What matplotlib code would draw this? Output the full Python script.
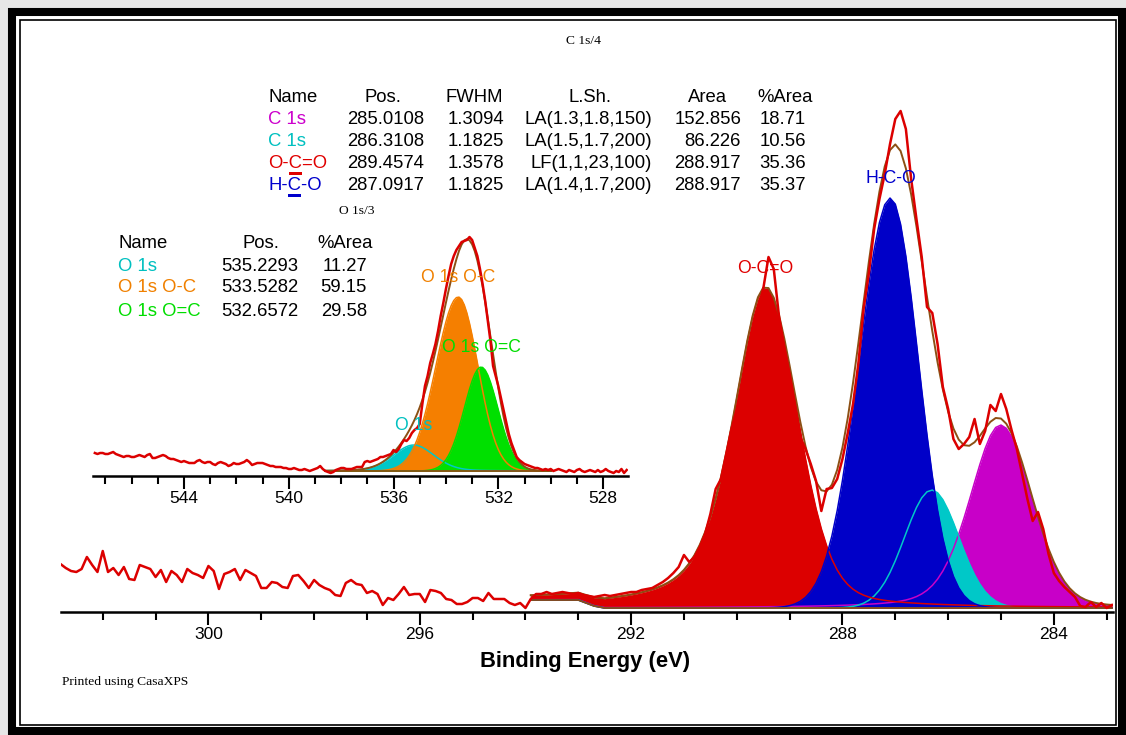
import numpy as np
import matplotlib

matplotlib.use("Agg")
import matplotlib.pyplot as plt
from matplotlib.ticker import MultipleLocator
from matplotlib.patches import Rectangle

plt.rcParams["font.family"] = "Liberation Sans"

W, H = 1126, 735

# C 1s scan, counts above the axis line, 0.1 eV steps from 302.8 eV down
c1s_raw = [
    45, 41, 38, 37, 40, 52, 44, 37, 58, 37,
    41, 34, 42, 30, 29, 44, 42, 40, 32, 39,
    27, 38, 34, 27, 40, 36, 34, 31, 43, 38,
    20, 35, 37, 40, 29, 39, 36, 33, 21, 21,
    27, 26, 22, 21, 33, 34, 28, 21, 29, 24,
    21, 19, 14, 13, 26, 29, 25, 24, 16, 18,
    15, 4, 11, 9, 15, 22, 14, 15, 15, 7,
    19, 18, 16, 10, 9, 5, 5, 7, 11, 11,
    8, 16, 10, 10, 10, 6, 4, 6, 1,
    10, 15, 15, 17, 15, 16, 17, 16, 15, 16,
    14, 13, 12, 13, 14, 13, 14, 15, 16, 17,
    17, 19, 20, 21, 24, 27, 31, 36, 42, 54,
    47, 52, 62, 75, 95, 120, 130, 155, 180, 200,
    225, 250, 276, 300, 320, 352, 340, 292, 262, 235,
    205, 172, 160, 145, 128, 98, 120, 121, 130, 150,
    176, 205, 245, 300, 336, 380, 410, 435, 465, 490,
    498, 480, 430, 390, 352, 302, 296, 265, 222, 200,
    170, 160, 165, 172, 190, 165, 178, 204, 198, 215,
    200, 179, 160, 135, 110, 88, 97, 80, 55, 36,
    28, 22, 17, 12, 3, 2, 7, 2, 6, 1, 4,
]
c1s_start = 302.8
c1s_fit_start = 293.9
c1s_background = [9] * 10 + [7, 5, 3, 2] + [1] * 97

c1s_names = ["C 1s", "C 1s", "O-C=O", "H-C-O"]
c1s_pos = [285.0108, 286.3108, 289.4574, 287.0917]
c1s_fwhm = [1.3094, 1.1825, 1.3578, 1.1825]
c1s_shape = ["LA(1.3,1.8,150)", "LA(1.5,1.7,200)", "LF(1,1,23,100)", "LA(1.4,1.7,200)"]
c1s_area = [152.856, 86.226, 288.917, 288.917]
c1s_pct = [18.71, 10.56, 35.36, 35.37]
c1s_height = [183, 118, 320, 410]
c1s_hwhm = [(0.68, 0.70), (0.60, 0.60), (0.72, 0.72), (0.70, 0.62)]  # (high BE, low BE)
c1s_lor = [(0.30, 0.10), (0.0, 0.0), (0.55, 0.25), (0.0, 0.0)]
c1s_colors = ["#C800C8", "#00C8C8", "#DC0000", "#0000C8"]
c1s_text_colors = ["#CC00CC", "#00C0C0", "#E00000", "#0000CC"]
c1s_tagged = [False, False, True, True]

# O 1s scan, 0.1 eV steps from 547.4 eV down
o1s_raw = [
    23, 22, 23, 23, 22, 22, 23, 24, 22, 21,
    20, 19, 20, 20, 19, 19, 20, 21, 20, 19,
    21, 22, 18, 18, 19, 20, 21, 20, 18, 17,
    17, 16, 15, 14, 15, 14, 13, 13, 13, 15,
    16, 14, 13, 14, 14, 12, 11, 13, 14, 13,
    12, 10, 11, 13, 12, 12, 13, 14, 16, 14,
    11, 12, 13, 13, 13, 12, 11, 10, 10, 9,
    9, 9, 8, 8, 7, 7, 8, 7, 6, 6,
    7, 6, 5, 6, 7, 8, 10, 7, 5, 4,
    3, 4, 6, 7, 8, 8, 7, 7, 7, 8,
    9, 9, 9, 14, 15, 14, 15, 16, 17, 19,
    19, 20, 21, 22, 26, 24, 27, 32, 36, 35,
    38, 43, 46, 48, 52, 72, 90, 100, 113, 122,
    132, 145, 160, 173, 187, 200, 212, 220, 226, 230,
    234, 235, 236, 239, 236, 228, 220, 207, 192, 175,
    155, 135, 110, 100, 90, 78, 66, 54, 42, 33,
    26, 19, 16, 14, 12, 11, 10, 9, 8, 8,
    7, 6,
    7, 6, 7, 5, 6, 7, 6, 5, 4, 6, 5, 4, 6, 7, 5, 4,
    5, 6, 5, 4, 6, 4, 5, 7, 5, 4, 3, 5, 4, 7, 3, 6,
]
o1s_start = 547.4
o1s_fit_start = 538.6
o1s_background = [5] * 87

o1s_names = ["O 1s", "O 1s O-C", "O 1s O=C"]
o1s_pos = [535.2293, 533.5282, 532.6572]
o1s_pct = [11.27, 59.15, 29.58]
o1s_height = [26, 174, 104]
o1s_hwhm = [(0.92, 0.92), (1.00, 0.88), (0.75, 0.75)]
o1s_lor = [(0.2, 0.2), (0.0, 0.0), (0.0, 0.0)]
o1s_colors = ["#00C8C8", "#F57F00", "#00E000"]
o1s_text_colors = ["#00C0C0", "#F08000", "#00DD00"]

RAW = "#DC0000"
ENV = "#8C5014"


def energy(start, n):
    return np.round(start - 0.1 * np.arange(n), 1)


def peak(x, pos, height, hwhm, lor):
    d = x - pos
    w = np.where(d > 0, hwhm[0], hwhm[1])
    eta = np.where(d > 0, lor[0], lor[1])
    u = (d / w) ** 2
    return height * ((1 - eta) * np.exp(-np.log(2) * u) + eta / (1 + u))


def draw_fit(ax, start, raw, fit_start, background, pos, height, hwhm, lor, colors):
    be = energy(start, len(raw))
    be_fit = energy(fit_start, len(background))
    bg = np.array(background, dtype=float)
    comps = [peak(be_fit, p, h, w, l) for p, h, w, l in zip(pos, height, hwhm, lor)]
    for i, (comp, c) in enumerate(zip(comps, colors)):
        ax.fill_between(be_fit, bg, bg + comp, color=c, lw=0, zorder=1 + i)
    for comp, c in zip(comps, colors):
        ax.plot(be_fit, bg + comp, color=c, lw=1.1, zorder=6)
    ax.plot(be_fit, bg, color=ENV, lw=1.3, zorder=7)
    ax.plot(be_fit, bg + np.sum(comps, axis=0), color=ENV, lw=1.4, zorder=7)
    ax.plot(be, raw, color=RAW, lw=1.8, zorder=8)


def style_axis(ax, majors):
    for side in ["left", "right", "top"]:
        ax.spines[side].set_visible(False)
    ax.spines["bottom"].set_linewidth(1.8)
    ax.set_facecolor("none")
    ax.set_yticks([])
    ax.set_xticks(majors)
    ax.xaxis.set_minor_locator(MultipleLocator(1))
    ax.tick_params(axis="x", which="major", direction="out", length=9.4, width=1.5,
                   labelsize=12.5, pad=1.5)
    ax.tick_params(axis="x", which="minor", direction="out", length=5.8, width=1.5)


def rect_px(fig, x0, y0, x1, y1, **kw):
    fig.patches.append(Rectangle((x0 / W, 1 - y1 / H), (x1 - x0) / W, (y1 - y0) / H,
                                 transform=fig.transFigure, figure=fig, **kw))


def put(fig, x, y, s, ha="left", color="black", size=13.3, **kw):
    return fig.text(x / W, 1 - y / H, s, ha=ha, va="center", color=color,
                    fontsize=size, **kw)


fig = plt.figure(figsize=(W / 100, H / 100), dpi=100)
fig.patch.set_facecolor("#E6E6E6")

# page frame
rect_px(fig, 8, 8, W + 10, H + 10, facecolor="white", edgecolor="none", zorder=-20)
rect_px(fig, 12, 12, 1122, 731, facecolor="none", edgecolor="black", lw=5.8, zorder=-10)
rect_px(fig, 20, 20, 1116, 725, facecolor="none", edgecolor="black", lw=1.2, zorder=-10)

# main C 1s panel
ax = fig.add_axes([61 / W, 1 - 611.5 / H, (1113 - 61) / W, (611.5 - 20) / H])
ax.set_xlim(302.79, 282.88)
ax.set_ylim(-2.5, 589)
style_axis(ax, [300, 296, 292, 288, 284])
draw_fit(ax, c1s_start, c1s_raw, c1s_fit_start, c1s_background,
         c1s_pos, c1s_height, c1s_hwhm, c1s_lor, c1s_colors)
for name, p, h, c, tag in zip(c1s_names, c1s_pos, c1s_height, c1s_text_colors, c1s_tagged):
    if tag:
        ax.annotate(name, (p, h + 1), xytext=(0, 13.7), textcoords="offset points",
                    ha="center", va="center", color=c, fontsize=12.7, zorder=9)

# O 1s inset
axo = fig.add_axes([92.5 / W, 1 - 476 / H, (628 - 92.5) / W, (476 - 215) / H])
axo.set_xlim(547.49, 527.05)
axo.set_ylim(0, 261)
style_axis(axo, [544, 540, 536, 532, 528])
draw_fit(axo, o1s_start, o1s_raw, o1s_fit_start, o1s_background,
         o1s_pos, o1s_height, o1s_hwhm, o1s_lor, o1s_colors)
for name, p, h, c in zip(o1s_names, o1s_pos, o1s_height, o1s_text_colors):
    axo.annotate(name, (p, h + o1s_background[0]), xytext=(0, 13.7),
                 textcoords="offset points", ha="center", va="center",
                 color=c, fontsize=12.7, zorder=9)

serif = dict(family="Liberation Serif", size=9.7)
put(fig, 584, 41, "C 1s/4", ha="center", **serif)
put(fig, 357, 211, "O 1s/3", ha="center", **serif)
put(fig, 62, 682, "Printed using CasaXPS", **serif)
put(fig, 585, 662, "Binding Energy (eV)", ha="center", size=15.8, weight="bold")

# C 1s parameter table
renderer = fig.canvas.get_renderer()
rows_y = [98, 120, 142, 164, 186]
heads = [(268, "Name", "left"), (383, "Pos.", "center"), (474, "FWHM", "center"),
         (590, "L.Sh.", "center"), (707, "Area", "center"), (785, "%Area", "center")]
for x, s, ha in heads:
    put(fig, x, rows_y[0], s, ha=ha)
for i in range(len(c1s_names)):
    y = rows_y[i + 1]
    name = c1s_names[i]
    put(fig, 268, y, name, color=c1s_text_colors[i])
    put(fig, 424, y, f"{c1s_pos[i]:.4f}", ha="right")
    put(fig, 504, y, f"{c1s_fwhm[i]:.4f}", ha="right")
    put(fig, 652, y, c1s_shape[i], ha="right")
    put(fig, 741, y, f"{c1s_area[i]:.3f}", ha="right")
    put(fig, 806, y, f"{c1s_pct[i]:.2f}", ha="right")
    if c1s_tagged[i]:
        # bar under the carbon atom of the functional group
        k = name.index("C")
        tmp = put(fig, 268, y, name[:k])
        w1 = tmp.get_window_extent(renderer).width
        tmp.set_text(name[:k + 1])
        w2 = tmp.get_window_extent(renderer).width
        tmp.remove()
        rect_px(fig, 268 + w1, y + 8, 268 + w2, y + 11,
                facecolor=c1s_text_colors[i], edgecolor="none")

# O 1s table
orows_y = [243, 266, 288, 311]
for x, s, ha in [(118, "Name", "left"), (261, "Pos.", "center"), (345, "%Area", "center")]:
    put(fig, x, orows_y[0], s, ha=ha)
for i in range(len(o1s_names)):
    y = orows_y[i + 1]
    put(fig, 118, y, o1s_names[i], color=o1s_text_colors[i])
    put(fig, 298, y, f"{o1s_pos[i]:.4f}", ha="right")
    put(fig, 367, y, f"{o1s_pct[i]:.2f}", ha="right")

fig.savefig("out.png", dpi=100, facecolor=fig.get_facecolor())
